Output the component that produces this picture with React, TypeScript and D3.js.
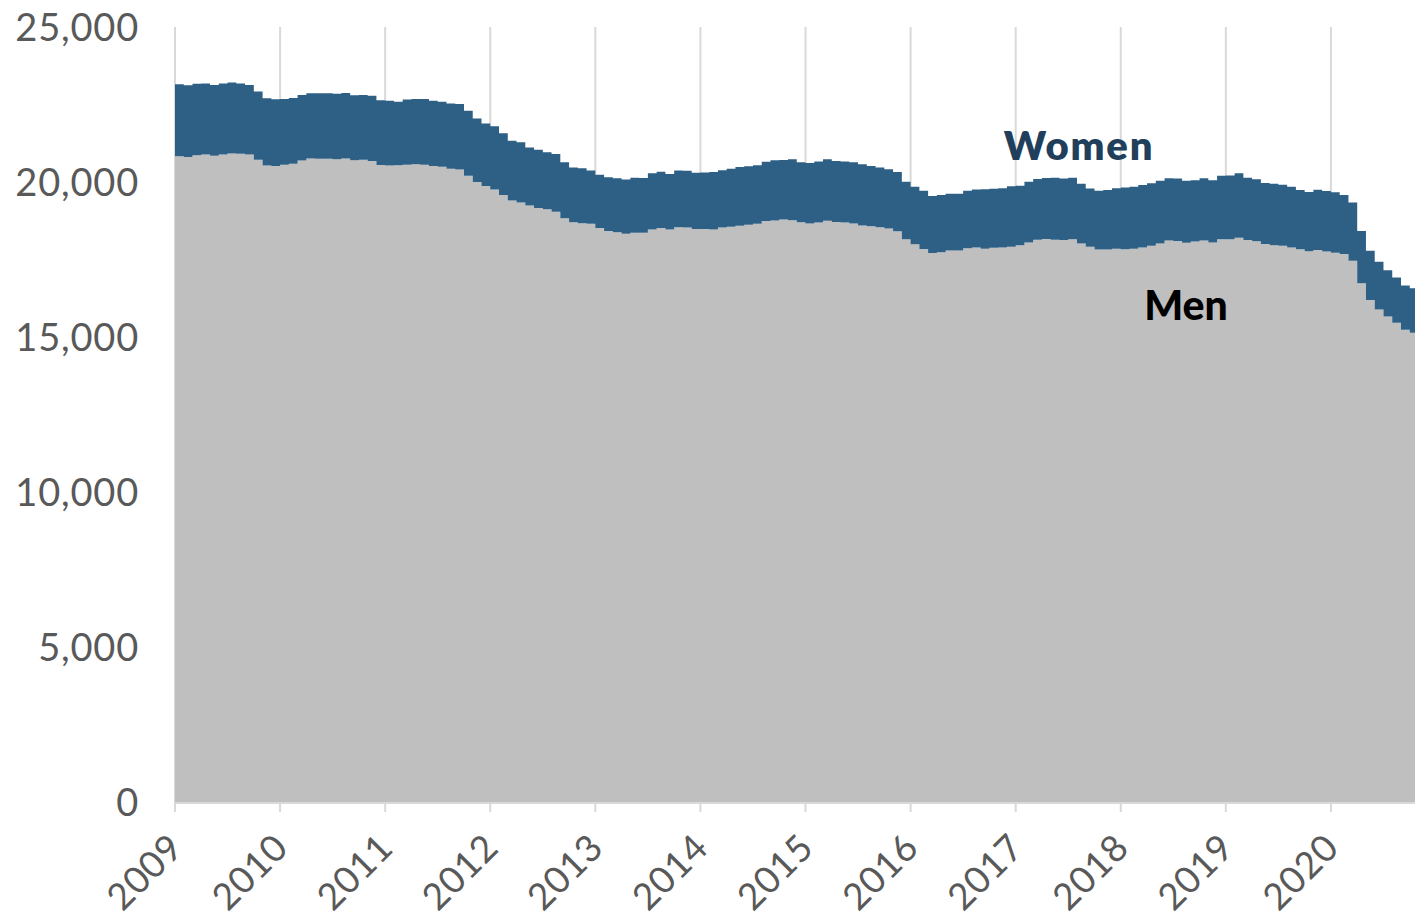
import { useMemo } from "react";
import * as d3 from "d3";

// monthly counts, Jan 2009 .. Oct 2020
const years = [2009, 2010, 2011, 2012, 2013, 2014, 2015, 2016, 2017, 2018, 2019, 2020];

const men = [
  20830, 20810, 20860, 20890, 20850, 20890, 20920, 20910, 20890, 20720, 20530, 20520,
  20560, 20590, 20690, 20760, 20750, 20750, 20730, 20760, 20700, 20720, 20680, 20550,
  20530, 20540, 20560, 20570, 20560, 20520, 20490, 20430, 20400, 20200, 20000, 19870,
  19760, 19580, 19400, 19340, 19240, 19160, 19120, 19040, 18830, 18700, 18670, 18650,
  18520, 18420, 18380, 18330, 18360, 18360, 18470, 18520, 18470, 18540, 18530, 18480,
  18480, 18470, 18530, 18560, 18590, 18620, 18650, 18740, 18760, 18790, 18770, 18700,
  18660, 18690, 18750, 18710, 18690, 18660, 18600, 18570, 18540, 18500, 18410, 18150,
  17990, 17840, 17710, 17730, 17790, 17790, 17860, 17890, 17850, 17880, 17890, 17910,
  17960, 18050, 18140, 18160, 18140, 18130, 18150, 18020, 17910, 17820, 17820, 17850,
  17830, 17850, 17890, 17940, 18020, 18110, 18100, 18040, 18080, 18110, 18050, 18150,
  18150, 18200, 18130, 18090, 18000, 17960, 17940, 17890, 17830, 17770, 17810, 17760,
  17720, 17680, 17460, 16730, 16190, 15890, 15660, 15460, 15230, 15140,
];

const women = [
  2320, 2310, 2310, 2290, 2280, 2290, 2290, 2270, 2240, 2200, 2170, 2150,
  2120, 2120, 2120, 2100, 2110, 2110, 2120, 2110, 2100, 2090, 2100, 2090,
  2090, 2050, 2100, 2110, 2120, 2100, 2100, 2100, 2120, 2100, 2050, 2020,
  2040, 1990, 1930, 1940, 1870, 1880, 1840, 1860, 1810, 1770, 1770, 1720,
  1710, 1730, 1740, 1750, 1780, 1770, 1810, 1810, 1790, 1830, 1830, 1820,
  1830, 1850, 1850, 1870, 1890, 1890, 1890, 1910, 1940, 1920, 1960, 1940,
  1950, 1970, 1980, 1970, 1970, 1980, 1970, 1950, 1930, 1910, 1910, 1860,
  1860, 1880, 1840, 1850, 1830, 1830, 1860, 1870, 1920, 1900, 1910, 1950,
  1920, 1960, 1960, 1970, 2000, 1980, 1990, 1920, 1880, 1900, 1920, 1950,
  1990, 2000, 2010, 2020, 2020, 2010, 2010, 2000, 1980, 2010, 2010, 2050,
  2060, 2080, 2010, 2000, 1970, 1980, 1970, 1960, 1910, 1910, 1940, 1950,
  1950, 1900, 1880, 1690, 1590, 1540, 1490, 1460, 1430, 1430,
];

const yTicks = [0, 5000, 10000, 15000, 20000, 25000];

const W = 1415;
const H = 922;
const FONT = "Lato, 'Noto Sans', sans-serif";

type Row = { i: number; men: number; women: number };

export default function App() {
  const left = 175;
  const right = 1415;
  const top = 27;
  const bottom = 802;

  const x = d3.scaleLinear().domain([0, 141.6]).range([left, right]);
  const y = d3.scaleLinear().domain([0, 25000]).range([bottom, top]);

  const { menPath, womenPath } = useMemo(() => {
    const rows: Row[] = men.map((m, i) => ({ i, men: m, women: women[i] }));
    const last = rows[rows.length - 1];
    rows.push({ ...last, i: last.i + 1 });
    const series = d3.stack<Row>().keys(["men", "women"])(rows);
    const area = d3
      .area<d3.SeriesPoint<Row>>()
      .x((d) => x(d.data.i))
      .y0((d) => y(d[0]))
      .y1((d) => y(d[1]))
      .curve(d3.curveStepAfter);
    return { menPath: area(series[0]) ?? "", womenPath: area(series[1]) ?? "" };
  }, []);

  return (
    <svg
      width={W}
      height={H}
      style={{ position: "absolute", left: 0, top: 0, background: "#fff" }}
    >
      <defs>
        <clipPath id="plot">
          <rect x={left} y={0} width={right - left} height={bottom} />
        </clipPath>
      </defs>

      {/* year grid lines */}
      {years.map((yr, k) => (
        <line
          key={yr}
          x1={x(k * 12)}
          x2={x(k * 12)}
          y1={top}
          y2={bottom + 10}
          stroke="#d9d9d9"
          strokeWidth={2}
        />
      ))}

      <g clipPath="url(#plot)">
        <path d={menPath} fill="#bfbfbf" />
        <path d={womenPath} fill="#2e6085" />
      </g>

      <line x1={left} x2={right} y1={bottom + 1} y2={bottom + 1} stroke="#d9d9d9" strokeWidth={2} />

      {yTicks.map((t) => (
        <text
          key={t}
          x={139}
          y={y(t)}
          dy="0.36em"
          textAnchor="end"
          fill="#595959"
          style={{ fontFamily: FONT, fontSize: 38, letterSpacing: 0.8 }}
        >
          {d3.format(",")(t)}
        </text>
      ))}

      {years.map((yr, k) => {
        const tx = x(k * 12) + 10;
        const ty = 850;
        return (
          <text
            key={yr}
            x={tx}
            y={ty}
            textAnchor="end"
            fill="#595959"
            transform={`rotate(-45 ${tx} ${ty})`}
            style={{ fontFamily: FONT, fontSize: 37, letterSpacing: 0.6 }}
          >
            {yr}
          </text>
        );
      })}

      <text
        x={1079}
        y={160}
        textAnchor="middle"
        fill="#1f3f5c"
        style={{ fontFamily: FONT, fontSize: 40, fontWeight: 800, letterSpacing: 1.8 }}
      >
        Women
      </text>
      <text
        x={1186}
        y={320}
        textAnchor="middle"
        fill="#000"
        style={{ fontFamily: FONT, fontSize: 41, fontWeight: 900 }}
      >
        Men
      </text>
    </svg>
  );
}
